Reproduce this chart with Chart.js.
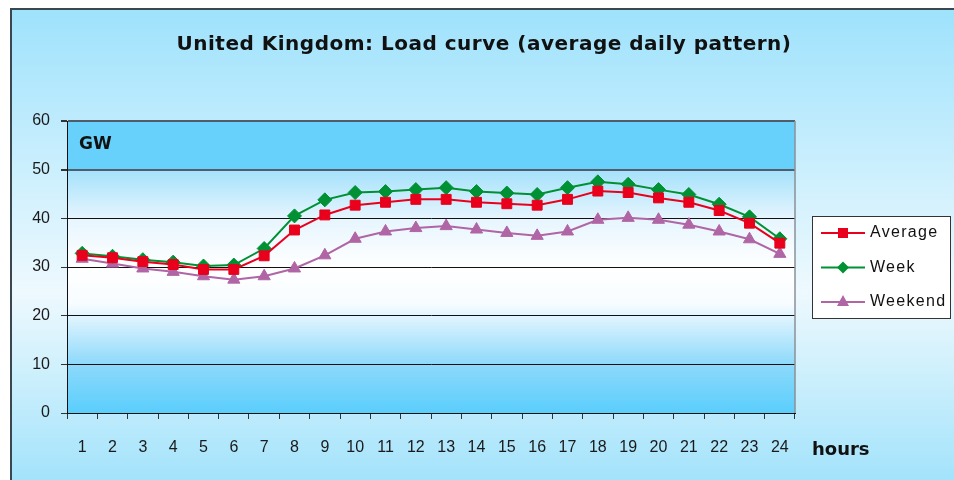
<!DOCTYPE html>
<html>
<head>
<meta charset="utf-8">
<script src="https://cdn.jsdelivr.net/npm/chart.js@4/dist/chart.umd.min.js"></script>
<style>
  html, body { margin: 0; padding: 0; background: #ffffff; }
  #wrap { width: 954px; height: 480px; position: relative; }
</style>
</head>
<body>
<div id="wrap"><canvas id="loadChart" width="954" height="480"></canvas></div>
<script>
// data (GW per hour)
const hours = ["1","2","3","4","5","6","7","8","9","10","11","12","13","14","15","16","17","18","19","20","21","22","23","24"];
const average = [32.4, 31.9, 31.1, 30.5, 29.5, 29.5, 32.3, 37.6, 40.7, 42.7, 43.3, 43.9, 43.9, 43.3, 43.0, 42.7, 43.9, 45.6, 45.3, 44.2, 43.3, 41.6, 39.0, 34.9];
const week = [32.8, 32.2, 31.5, 31.0, 30.2, 30.4, 33.8, 40.5, 43.8, 45.3, 45.5, 45.9, 46.3, 45.5, 45.2, 44.9, 46.3, 47.5, 47.0, 45.9, 44.9, 42.9, 40.3, 35.8];
const weekend = [31.7, 30.7, 29.7, 29.0, 28.1, 27.4, 28.1, 29.7, 32.4, 35.8, 37.3, 38.0, 38.4, 37.7, 37.0, 36.4, 37.3, 39.7, 40.1, 39.7, 38.7, 37.3, 35.7, 32.7];
const yTicks = [0, 10, 20, 30, 40, 50, 60];

const seriesNames = ["Average", "Week", "Weekend"];
const seriesColors = ["#e8001c", "#009134", "#b065a5"];
const seriesShapes = ["rect", "rectRot", "triangle"];
const chartTitle = "United Kingdom: Load curve (average daily pattern)";

//#region backgrounds, frame, extra labels
const decorPlugin = {
  id: "decor",
  beforeDraw(chart) {
    const ctx = chart.ctx;
    const w = chart.width, h = chart.height;
    ctx.save();
    ctx.fillStyle = "#ffffff";
    ctx.fillRect(0, 0, w, h);
    // outer panel
    const bg = ctx.createLinearGradient(0, 9, 0, h);
    bg.addColorStop(0, "#9ee2fc");
    bg.addColorStop(0.6, "#eef9fe");
    bg.addColorStop(1, "#a3e3fb");
    ctx.fillStyle = bg;
    ctx.fillRect(11, 9, w - 11, h - 9);
    ctx.strokeStyle = "#3a4650";
    ctx.lineWidth = 2;
    ctx.beginPath();
    ctx.moveTo(11, h);
    ctx.lineTo(11, 9);
    ctx.lineTo(w, 9);
    ctx.stroke();

    // plot area
    const a = chart.chartArea;
    const y = chart.scales.y;
    const y50 = y.getPixelForValue(50);
    ctx.fillStyle = "#68d1fb";
    ctx.fillRect(a.left, a.top, a.right - a.left, y50 - a.top);
    const pg = ctx.createLinearGradient(0, y50, 0, a.bottom);
    pg.addColorStop(0, "#a4e1fb");
    pg.addColorStop(0.2, "#e6f5fe");
    pg.addColorStop(0.4, "#ffffff");
    pg.addColorStop(0.55, "#f7fcff");
    pg.addColorStop(0.8, "#8dd9fb");
    pg.addColorStop(1, "#5acefc");
    ctx.fillStyle = pg;
    ctx.fillRect(a.left, y50, a.right - a.left, a.bottom - y50);
    ctx.restore();
  },
  afterDraw(chart) {
    const ctx = chart.ctx;
    const a = chart.chartArea;
    ctx.save();
    // right border of the plot
    ctx.strokeStyle = "#8a9096";
    ctx.lineWidth = 1.5;
    ctx.beginPath();
    ctx.moveTo(a.right, a.top);
    ctx.lineTo(a.right, a.bottom);
    ctx.stroke();

    ctx.fillStyle = "#111111";
    ctx.textBaseline = "middle";
    ctx.textAlign = "center";
    ctx.font = "bold 20px 'DejaVu Sans'";
    ctx.letterSpacing = "0.5px";
    ctx.fillText(chartTitle, 484, 45);
    ctx.letterSpacing = "0px";
    ctx.textAlign = "left";
    ctx.font = "bold 17px 'DejaVu Sans'";
    ctx.fillText("GW", a.left + 12, a.top + 24);
    ctx.font = "bold 18px 'DejaVu Sans'";
    ctx.fillText("hours", 812, 450);

    // legend
    const lx = 812, ly = 216, lw = 138, lh = 102;
    ctx.fillStyle = "#ffffff";
    ctx.fillRect(lx, ly, lw, lh);
    ctx.strokeStyle = "#333333";
    ctx.lineWidth = 1;
    ctx.strokeRect(lx + 0.5, ly + 0.5, lw, lh);
    ctx.font = "16px 'Liberation Sans'";
    ctx.letterSpacing = "1.3px";
    seriesNames.forEach((name, i) => {
      const cy = ly + 17 + i * 34.5;
      ctx.strokeStyle = seriesColors[i];
      ctx.lineWidth = 2;
      ctx.beginPath();
      ctx.moveTo(lx + 9, cy);
      ctx.lineTo(lx + 53, cy);
      ctx.stroke();
      ctx.fillStyle = seriesColors[i];
      drawMarker(ctx, seriesShapes[i], lx + 31, cy);
      ctx.fillStyle = "#111111";
      ctx.fillText(name, lx + 58, cy);
    });
    ctx.restore();
  }
};

function drawMarker(ctx, shape, x, y) {
  ctx.beginPath();
  if (shape === "rect") {
    ctx.rect(x - 5, y - 5, 10, 10);
  } else if (shape === "rectRot") {
    ctx.moveTo(x, y - 6); ctx.lineTo(x + 6, y); ctx.lineTo(x, y + 6); ctx.lineTo(x - 6, y);
  } else {
    ctx.moveTo(x, y - 7); ctx.lineTo(x + 6, y + 4); ctx.lineTo(x - 6, y + 4);
  }
  ctx.closePath();
  ctx.fill();
}
//#endregion

const datasets = [average, week, weekend].map((values, i) => ({
  label: seriesNames[i],
  data: values,
  borderColor: seriesColors[i],
  backgroundColor: seriesColors[i],
  borderWidth: 2,
  pointStyle: seriesShapes[i],
  pointRadius: 7,
  pointBorderWidth: 1,
  tension: 0
}));

new Chart(document.getElementById("loadChart"), {
  type: "line",
  data: { labels: hours, datasets: datasets },
  plugins: [decorPlugin],
  options: {
    responsive: false,
    animation: false,
    devicePixelRatio: 1,
    layout: { padding: { left: 0, right: 159, top: 121, bottom: 0 } },
    plugins: {
      legend: { display: false },
      tooltip: { enabled: false },
      title: { display: false }
    },
    scales: {
      x: {
        offset: true,
        grid: { offset: true, drawOnChartArea: false, drawTicks: true, tickLength: 6, tickColor: "#333333" },
        border: { color: "#111111", width: 1 },
        ticks: { color: "#1a1a1a", padding: 19, maxRotation: 0, autoSkip: false, font: { family: "'Liberation Sans'", size: 16 } },
        afterFit(scale) { scale.height = 67; }
      },
      y: {
        min: 0,
        max: 60,
        afterBuildTicks(scale) { scale.ticks = yTicks.map(v => ({ value: v })); },
        grid: {
          tickLength: 6,
          tickColor: "#333333",
          color: (c) => (c.tick && c.tick.value >= 50 ? "#4f5e6a" : "#111111"),
          lineWidth: (c) => (c.tick && c.tick.value >= 50 ? 2 : 1)
        },
        border: { color: "#111111", width: 1 },
        ticks: { color: "#1a1a1a", padding: 11, font: { family: "'Liberation Sans'", size: 16 } },
        afterFit(scale) { scale.width = 67; }
      }
    }
  }
});
</script>
</body>
</html>
